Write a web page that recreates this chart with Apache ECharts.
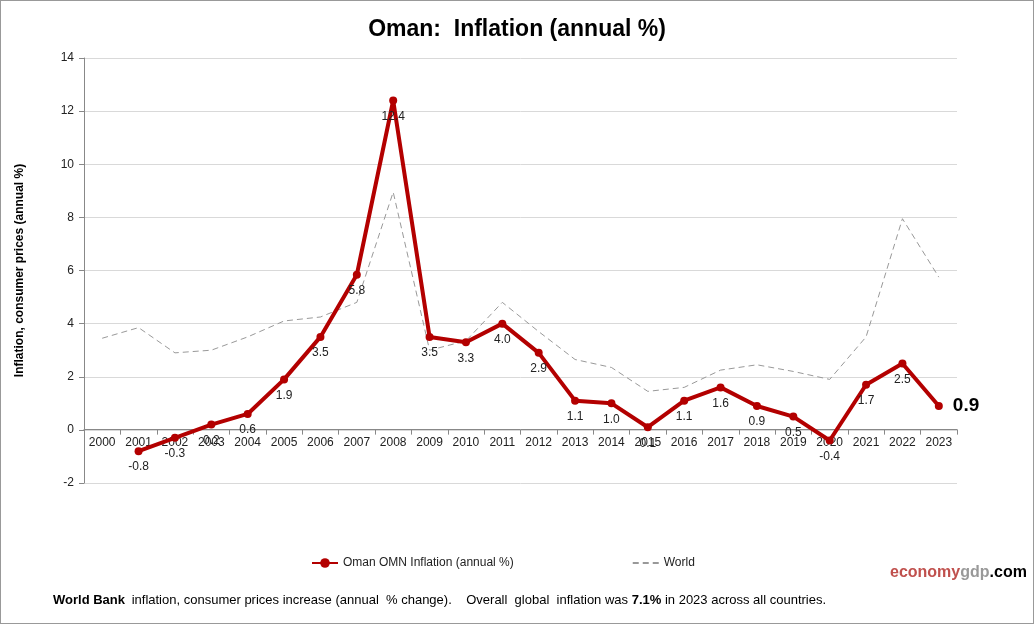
<!DOCTYPE html>
<html>
<head>
<meta charset="utf-8">
<script src="https://cdn.jsdelivr.net/npm/echarts@6/dist/echarts.min.js"></script>
<style>
html,body{margin:0;padding:0;background:#fff;}
#c{width:1034px;height:624px;box-sizing:border-box;border:1px solid #999;}
</style>
</head>
<body>
<div id="c"></div>
<script>
var years = ['2000','2001','2002','2003','2004','2005','2006','2007','2008','2009','2010','2011','2012','2013','2014','2015','2016','2017','2018','2019','2020','2021','2022','2023'];
var omanValues = [null,-0.8,-0.3,0.2,0.6,1.9,3.5,5.84,12.4,3.5,3.3,4.0,2.9,1.1,1.0,0.1,1.1,1.6,0.9,0.5,-0.4,1.7,2.5,0.9];
var worldValues = [3.45,3.85,2.9,3.0,3.5,4.1,4.25,4.8,8.95,3.0,3.35,4.8,3.7,2.65,2.35,1.45,1.6,2.25,2.45,2.2,1.9,3.5,7.95,5.75];
var yTicks = [-2,0,2,4,6,8,10,12,14];

var font = 'Liberation Sans, Arial, sans-serif';
var chart = echarts.init(document.getElementById('c'));
var gridTop = 57, gridBottom = 140, H = 624;
var plotH = H - gridTop - gridBottom;
var zeroOffset = -plotH * (0 - yTicks[0]) / (yTicks[yTicks.length-1] - yTicks[0]);
var omanData = omanValues.map(function(v,i){
  if (i === omanValues.length-1) {
    return {value:v, label:{position:'right', distance:10, fontSize:19, fontWeight:'bold', color:'#000'}};
  }
  return v;
});
chart.setOption({
  animation:false,
  backgroundColor:'#fff',
  title:{text:'Oman:  Inflation (annual %)', left:'center', top:12,
    textStyle:{fontFamily:font, fontSize:23, fontWeight:'bold', color:'#000'}},
  grid:{left:83, right:76, top:gridTop, bottom:gridBottom},
  legend:{left:305, top:551, itemGap:118, itemWidth:26, itemHeight:12,
    textStyle:{fontFamily:font, fontSize:12, color:'#222'},
    data:[{name:'Oman OMN Inflation (annual %)'}, {name:'World', itemStyle:{opacity:0}}]},
  xAxis:{type:'category', data:years, boundaryGap:true, offset:zeroOffset,
    axisLine:{onZero:false, lineStyle:{color:'#888'}},
    axisTick:{show:true, length:5, lineStyle:{color:'#888'}},
    axisLabel:{interval:0, fontFamily:font, fontSize:12, color:'#222', margin:7},
    splitLine:{show:false}},
  yAxis:{type:'value', min:yTicks[0], max:yTicks[yTicks.length-1], interval:2,
    name:'Inflation, consumer prices (annual %)', nameLocation:'middle', nameGap:58,
    nameTextStyle:{fontFamily:font, fontSize:12, fontWeight:'bold', color:'#000'},
    axisLine:{show:true, lineStyle:{color:'#888'}},
    axisTick:{show:true, length:5, lineStyle:{color:'#888'}},
    axisLabel:{fontFamily:font, fontSize:12, color:'#222', margin:10},
    splitLine:{lineStyle:{color:'#d9d9d9'}}},
  series:[
    {name:'Oman OMN Inflation (annual %)', type:'line', data:omanData,
      symbol:'circle', symbolSize:8, z:3,
      lineStyle:{color:'#b30000', width:4}, itemStyle:{color:'#b30000'},
      label:{show:true, position:'bottom', distance:6, fontFamily:font, fontSize:12, color:'#222',
        formatter:function(p){return p.value==null?'':Number(p.value).toFixed(1);}}},
    {name:'World', type:'line', data:worldValues, symbol:'none', z:2,
      lineStyle:{color:'#999', width:1, type:[6,4]}, itemStyle:{color:'#999'}}
  ],
  graphic:[
    {type:'text', left:889, top:564, style:{
      text:'{a|economy}{b|gdp}{c|.com}', font:'bold 16px '+font,
      rich:{a:{fill:'#c0504d', font:'bold 16px '+font}, b:{fill:'#999', font:'bold 16px '+font}, c:{fill:'#000', font:'bold 16px '+font}}}},
    {type:'text', left:52, top:593, style:{
      text:'{b|World Bank}  {n|inflation, consumer prices increase (annual  % change).    Overall  global  inflation was }{b|7.1%}{n| in 2023 across all countries.}',
      rich:{b:{fill:'#000', font:'bold 13px '+font}, n:{fill:'#000', font:'13px '+font}}}}
  ]
});
</script>
</body>
</html>
